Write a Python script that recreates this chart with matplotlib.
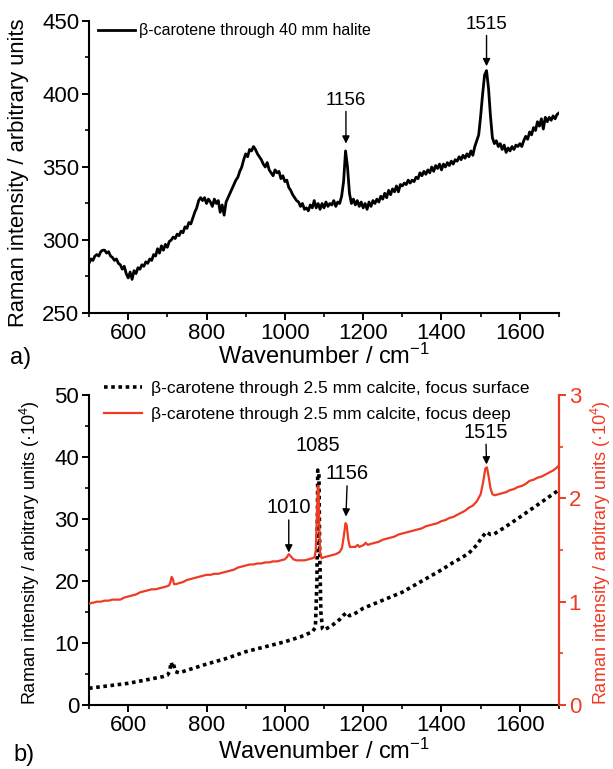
import numpy as np
import matplotlib
matplotlib.use("Agg")
import matplotlib.pyplot as plt
from matplotlib.ticker import MultipleLocator

plt.rcParams['font.family'] = ['Liberation Sans', 'DejaVu Sans']
plt.rcParams['mathtext.fontset'] = 'custom'
plt.rcParams['mathtext.rm'] = 'Liberation Sans'
plt.rcParams['mathtext.it'] = 'Liberation Sans:italic'

# ---------------- panel a) data ----------------
halite_x = list(range(500, 1705, 5))
halite_y = [
    284, 287, 286, 289, 290, 289, 292, 293, 293, 291, 292, 289, 288, 286, 287, 284, 283, 280, 282, 277,
    274, 278, 273, 279, 277, 281, 280, 283, 282, 285, 284, 287, 286, 290, 289, 294, 291, 296, 293, 297,
    295, 299, 300, 302, 301, 304, 303, 306, 305, 309, 308, 312, 311, 315, 319, 322, 327, 329, 327, 329,
    325, 328, 326, 323, 328, 325, 327, 319, 324, 317, 326, 329, 332, 335, 338, 341, 343, 347, 350, 355,
    359, 357, 362, 361, 364, 362, 359, 357, 355, 352, 350, 353, 348, 346, 344, 348, 346, 347, 342, 344,
    340, 341, 336, 334, 331, 329, 327, 326, 323, 325, 321, 322, 320, 324, 322, 327, 322, 325, 321, 325,
    322, 326, 323, 325, 324, 327, 323, 326, 325, 330, 340, 361, 350, 332, 325, 328, 324, 327, 323, 326,
    322, 325, 321, 326, 323, 327, 325, 328, 326, 330, 328, 332, 329, 334, 331, 335, 333, 337, 333, 338,
    337, 339, 338, 341, 339, 341, 340, 343, 342, 346, 344, 347, 345, 348, 346, 350, 347, 351, 349, 352,
    348, 352, 350, 353, 351, 354, 352, 355, 354, 357, 355, 358, 356, 359, 357, 361, 358, 364, 368, 372,
    385, 400, 413, 416, 404, 385, 370, 366, 368, 364, 366, 362, 365, 360, 363, 361, 364, 362, 365, 364,
    366, 364, 368, 371, 369, 374, 372, 377, 375, 381, 378, 383, 376, 384, 381, 384, 382, 385, 383, 386,
    387,
]

# ---------------- panel b) data ----------------
surf_x = [500, 550, 600, 650, 690, 700, 705, 710, 713, 716, 720, 730, 750, 800, 850, 900, 950,
          1000, 1040, 1070, 1078, 1082, 1084, 1087, 1089, 1092, 1096, 1100, 1120, 1140, 1150,
          1158, 1165, 1175, 1200, 1250, 1300, 1350, 1400, 1430, 1450, 1470, 1490, 1505, 1515,
          1525, 1535, 1560, 1600, 1650, 1700]
surf_y = [2.7, 3.1, 3.5, 4.1, 4.6, 4.8, 5.3, 6.9, 6.2, 6.6, 5.4, 5.2, 5.6, 6.6, 7.5, 8.6, 9.4,
          10.2, 11.0, 11.8, 12.5, 20.0, 37.9, 37.5, 25.0, 15.0, 12.3, 12.1, 12.8, 13.8, 14.5,
          14.9, 14.4, 14.6, 15.6, 16.9, 18.2, 20.0, 21.8, 23.0, 23.7, 24.5, 25.8, 27.2, 27.9,
          27.5, 27.6, 28.6, 30.3, 32.5, 34.7]

deep_x = [500, 510, 520, 530, 540, 550, 560, 570, 580, 590, 600, 610, 620, 630, 640, 650, 660,
          670, 680, 690, 700, 705, 708, 711, 714, 717, 722, 730, 740, 750, 760, 770, 780, 790,
          800, 810, 820, 830, 840, 850, 860, 870, 880, 890, 900, 910, 920, 930, 940, 950, 960,
          970, 980, 990, 1000, 1005, 1010, 1015, 1022, 1030, 1040, 1050, 1060, 1070, 1076, 1079,
          1082, 1084, 1086, 1088, 1090, 1094, 1100, 1110, 1120, 1130, 1140, 1146, 1150, 1155,
          1158, 1162, 1166, 1172, 1180, 1186, 1190, 1196, 1202, 1206, 1212, 1220, 1230, 1240,
          1250, 1260, 1270, 1280, 1290, 1300, 1310, 1320, 1330, 1340, 1350, 1360, 1370, 1380,
          1390, 1400, 1410, 1420, 1430, 1440, 1450, 1460, 1470, 1480, 1490, 1500, 1506, 1512,
          1516, 1520, 1525, 1530, 1536, 1545, 1555, 1565, 1575, 1585, 1595, 1605, 1615, 1625,
          1635, 1645, 1655, 1665, 1675, 1685, 1695, 1700]
deep_y = [0.98, 0.99, 1.00, 1.00, 1.01, 1.01, 1.02, 1.02, 1.02, 1.04, 1.05, 1.06, 1.07, 1.09,
          1.10, 1.11, 1.12, 1.12, 1.13, 1.14, 1.15, 1.16, 1.19, 1.24, 1.22, 1.17, 1.17, 1.18,
          1.19, 1.21, 1.22, 1.23, 1.24, 1.25, 1.26, 1.26, 1.27, 1.27, 1.28, 1.29, 1.30, 1.31,
          1.33, 1.34, 1.35, 1.36, 1.36, 1.37, 1.37, 1.38, 1.38, 1.39, 1.39, 1.40, 1.41, 1.43,
          1.46, 1.44, 1.41, 1.40, 1.40, 1.40, 1.41, 1.42, 1.43, 1.50, 1.85, 2.12, 2.10, 1.75,
          1.48, 1.42, 1.43, 1.44, 1.45, 1.46, 1.48, 1.52, 1.62, 1.76, 1.74, 1.60, 1.53, 1.53,
          1.53, 1.55, 1.53, 1.54, 1.55, 1.57, 1.55, 1.56, 1.57, 1.58, 1.60, 1.61, 1.62, 1.63,
          1.65, 1.66, 1.67, 1.68, 1.69, 1.70, 1.71, 1.73, 1.74, 1.75, 1.76, 1.78, 1.79, 1.81,
          1.82, 1.84, 1.86, 1.88, 1.91, 1.93, 1.97, 2.04, 2.15, 2.29, 2.30, 2.22, 2.10, 2.04,
          2.03, 2.04, 2.05, 2.06, 2.08, 2.09, 2.11, 2.12, 2.14, 2.17, 2.18, 2.20, 2.21, 2.23,
          2.25, 2.27, 2.30, 2.32]

label_a = "β-carotene through 40 mm halite"
label_surf = "β-carotene through 2.5 mm calcite, focus surface"
label_deep = "β-carotene through 2.5 mm calcite, focus deep"

RED = '#EE3B24'
TICK_FS = 16

fig = plt.figure(figsize=(6.13, 7.69), dpi=100)

def style_axis(ax):
    ax.tick_params(axis='both', which='major', direction='out', length=5, width=1.4,
                   labelsize=TICK_FS, pad=2)
    ax.tick_params(axis='both', which='minor', direction='out', length=3, width=1.2)
    for s in ax.spines.values():
        s.set_linewidth(1.5)

# ---------------- panel a ----------------
axa = fig.add_axes([0.1452, 0.5930, 0.7667, 0.3797])
axa.plot(halite_x, halite_y, color='black', lw=2.0, label=label_a)
axa.set_xlim(500, 1700)
axa.set_ylim(250, 450)
axa.xaxis.set_major_locator(MultipleLocator(200))
axa.xaxis.set_minor_locator(MultipleLocator(100))
axa.yaxis.set_major_locator(MultipleLocator(50))
axa.yaxis.set_minor_locator(MultipleLocator(25))
axa.spines['top'].set_visible(False)
axa.spines['right'].set_visible(False)
style_axis(axa)
axa.set_xlabel(r'Wavenumber / cm$^{-1}$', fontsize=17)
axa.xaxis.set_label_coords(0.5, -0.104)
axa.set_ylabel('Raman intensity / arbitrary units', fontsize=15.8)
axa.yaxis.set_label_coords(-0.128, 0.48)
axa.legend(loc='center left', bbox_to_anchor=(0.160, 0.960), bbox_transform=fig.transFigure,
           frameon=False, fontsize=11.5, handlelength=2.3, handletextpad=0.25, borderpad=0,
           borderaxespad=0)
arrow = dict(arrowstyle='-|>', color='black', lw=1.0, mutation_scale=11, shrinkA=0, shrinkB=0)
axa.annotate('1156', xy=(1156, 366), xytext=(1156, 390), ha='center', va='bottom',
             fontsize=13.5, arrowprops=arrow, annotation_clip=False)
axa.annotate('1515', xy=(1515, 419), xytext=(1515, 442), ha='center', va='bottom',
             fontsize=13.5, arrowprops=arrow, annotation_clip=False)
fig.text(0.017, 0.535, 'a)', fontsize=17, ha='left', va='center')

# ---------------- panel b ----------------
axb = fig.add_axes([0.1452, 0.0832, 0.7667, 0.4031])
axb.plot(surf_x, surf_y, color='black', lw=2.6, linestyle=(0, (1, 1.0)),
         dash_capstyle='butt', label=label_surf)
axb.set_xlim(500, 1700)
axb.set_ylim(0, 50)
axb.xaxis.set_major_locator(MultipleLocator(200))
axb.xaxis.set_minor_locator(MultipleLocator(100))
axb.yaxis.set_major_locator(MultipleLocator(10))
axb.yaxis.set_minor_locator(MultipleLocator(5))
axb.spines['top'].set_visible(False)
style_axis(axb)
axb.set_xlabel(r'Wavenumber / cm$^{-1}$', fontsize=17)
axb.xaxis.set_label_coords(0.5, -0.108)
axb.set_ylabel(r'Raman intensity / arbitrary units (·10$^{4}$)', fontsize=13.0)
axb.yaxis.set_label_coords(-0.100, 0.49)

axr = axb.twinx()
axr.plot(deep_x, deep_y, color=RED, lw=1.6, label=label_deep)
axr.set_ylim(0, 3)
axr.set_xlim(500, 1700)
axr.yaxis.set_major_locator(MultipleLocator(1))
axr.yaxis.set_minor_locator(MultipleLocator(0.5))
axr.spines['top'].set_visible(False)
axr.spines['left'].set_visible(False)
axr.spines['bottom'].set_visible(False)
style_axis(axr)
axr.spines['right'].set_color(RED)
axr.tick_params(axis='y', which='both', colors=RED)
axr.set_ylabel(r'Raman intensity / arbitrary units (·10$^{4}$)', fontsize=13.0, color=RED)
axr.yaxis.set_label_coords(1.063, 0.49)

h1, l1 = axb.get_legend_handles_labels()
h2, l2 = axr.get_legend_handles_labels()
axr.legend(h1 + h2, l1 + l2, loc='upper left', bbox_to_anchor=(0.170, 0.505),
           bbox_transform=fig.transFigure, frameon=False, fontsize=12.5,
           handlelength=2.2, handletextpad=0.5, borderpad=0, borderaxespad=0,
           labelspacing=0.62)

axb.annotate('1010', xy=(1010, 24.6), xytext=(1010, 30.3), ha='center', va='bottom',
             fontsize=14.5, arrowprops=arrow, annotation_clip=False)
axb.text(1085, 40.3, '1085', ha='center', va='bottom', fontsize=14.5)
axb.annotate('1156', xy=(1156, 30.4), xytext=(1160, 35.8), ha='center', va='bottom',
             fontsize=14.5, arrowprops=arrow, annotation_clip=False)
axb.annotate('1515', xy=(1515, 38.8), xytext=(1513, 42.5), ha='center', va='bottom',
             fontsize=14.5, arrowprops=arrow, annotation_clip=False)
fig.text(0.022, 0.018, 'b)', fontsize=17, ha='left', va='center')

fig.savefig('out.png', dpi=100)
